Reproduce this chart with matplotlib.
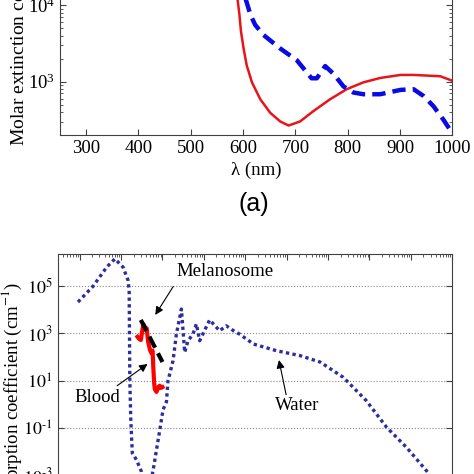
import numpy as np
import matplotlib.pyplot as plt
from matplotlib.ticker import NullLocator, LogLocator, FuncFormatter

plt.rcParams['font.family'] = 'Liberation Serif'
plt.rcParams['mathtext.fontset'] = 'stix'
plt.rcParams['font.size'] = 13.5

# (a) molar extinction, two dyes
wl_red = [586, 589, 593, 596, 601, 607, 617, 633, 652, 671, 687, 709, 734, 766, 798, 830, 862, 901, 926, 977, 1000]
ext_red = [5e4, 12700, 7570, 4540, 2720, 1630, 979, 586, 390, 301, 266, 301, 409, 586, 796, 979, 1117, 1225, 1225, 1177, 1028]

wl_blue = [600, 604, 614, 623, 639, 671, 703, 731, 741, 757, 773, 792, 811, 830, 862, 901, 926, 945, 964, 983, 1000]
ext_blue = [3e4, 12700, 7570, 5560, 4090, 2720, 1900, 1107, 1107, 1600, 1263, 865, 720, 684, 684, 780, 796, 649, 477, 317, 211]

# (b) absorption coefficients, wavelength in metres
wl_water = [9.1e-9, 2.13e-8, 4.48e-8, 7.1e-8, 1.12e-7, 1.48e-7, 1.57e-7, 1.63e-7, 1.72e-7,
            1.87e-7, 2.36e-7, 3.12e-7, 4.19e-7, 5.93e-7, 7.16e-7, 8.61e-7, 1.03e-6, 1.25e-6,
            1.36e-6, 1.50e-6, 1.80e-6, 2.17e-6, 2.87e-6, 3.44e-6, 4.14e-6, 5.46e-6, 6.59e-6,
            7.92e-6, 1.38e-5, 2.40e-5, 3.48e-5, 5.22e-5, 7.30e-5, 1.58e-4, 5.68e-4, 2.11e-3,
            6.41e-3, 2.33e-2, 8.38e-2, 0.258, 0.783, 2.38, 6.34]
mua_water = [2.1e4, 1.0e5, 6.2e5, 1.4e6, 6.2e5, 1.7e5, 6.3e4, 10, 0.22,
             8.9e-3, 4.6e-3, 1.45e-3, 9.3e-5, 1.6e-3, 0.012, 0.083, 0.59, 1.32,
             10, 19.5, 71, 930, 1.07e4, 158, 490, 930, 2510,
             490, 3720, 1290, 2090, 1290, 930, 355, 186, 115,
             62, 14, 1.45, 0.11, 0.0155, 1.6e-3, 1.5e-4]

wl_blood_nm = [250, 270, 300, 330, 345, 380, 415, 450, 500, 543, 576, 590, 600, 630, 652, 716, 800, 861, 920, 1000]
mua_blood = [720, 600, 525, 1500, 2500, 1800, 1640, 447, 200, 145, 186, 80, 38, 8, 4.5, 3.4, 5.5, 6.2, 5.0, 5.4]

wl_mel_nm = [300, 1000]
mua_mel = [3700, 62]

fig = plt.figure(figsize=(4.74, 4.74), dpi=100)
W = 474.0


def fmt_pot(v, pos):
    e = int(round(np.log10(v)))
    if e < 0:
        return r'$10^{\text{-}%d}$' % (-e)
    return r'$10^{%d}$' % e


# ---- top panel (partly outside the picture) ----
ax1 = fig.add_axes([60 / W, 1 - 135 / W, (452.3 - 60) / W, 206 / W])
ax1.plot(wl_red, ext_red, color='#e8141c', lw=1.8)
ax1.plot(wl_blue, ext_blue, color='#0a0ae6', lw=3.2, linestyle=(0, (3, 1.6)))
ax1.set_yscale('log')
ax1.set_xlim(250, 1000)
ax1.set_ylim(200, 1e5)
ax1.set_xticks(range(300, 1001, 100))
ax1.tick_params(which='both', direction='in', top=True, right=True, colors='#404040', labelcolor='black')
ax1.tick_params(which='major', length=4)
ax1.tick_params(which='minor', length=2)
for s in ax1.spines.values():
    s.set_color('#404040')

fig.text(256 / W, 1 - 170 / W, 'λ (nm)', ha='center', va='center')
fig.text(18 / W, 1 - 146 / W, 'Molar extinction coefficient (cm$^{-1}$/M)', rotation=90,
         ha='center', va='bottom', fontsize=14)
fig.text(254 / W, 1 - 204 / W, '(a)', ha='center', va='center', family='Liberation Sans', fontsize=18)

# ---- bottom panel (its lower part lies outside the picture) ----
ax2 = fig.add_axes([58 / W, 1 - 499.3 / W, (452.3 - 58) / W, 245.3 / W])
ax2.plot(wl_water, mua_water, color='#2d2d9f', lw=2.4, linestyle=(0, (1, 1)))
ax2.plot(np.array(wl_blood_nm) * 1e-9, mua_blood, color='#ff0000', lw=3)
ax2.plot(np.array(wl_mel_nm) * 1e-9, mua_mel, color='black', lw=3, linestyle=(0, (3, 1.5)))
ax2.set_xscale('log')
ax2.set_yscale('log')
ax2.set_xlim(3e-9, 10)
ax2.set_ylim(1e-4, 2.24e6)
ax2.set_yticks([1e-3, 1e-1, 1e1, 1e3, 1e5])
ax2.yaxis.set_major_formatter(FuncFormatter(fmt_pot))
ax2.yaxis.set_minor_locator(NullLocator())
ax2.xaxis.set_major_locator(LogLocator(base=10, numticks=20))
ax2.xaxis.set_minor_locator(LogLocator(base=10, subs=np.arange(2, 10), numticks=20))
ax2.yaxis.grid(True, linestyle=':', color='#888888', lw=0.8)
ax2.tick_params(which='both', direction='in', top=True, right=True, colors='#404040', labelcolor='black')
ax2.tick_params(axis='x', labelbottom=False)
ax2.tick_params(axis='y', pad=4, labelsize=13)
ax2.tick_params(which='major', length=4)
ax2.tick_params(which='minor', length=2)
for s in ax2.spines.values():
    s.set_color('#404040')

ax2.text(2.17e-6, 3.9e5, 'Melanosome', ha='left', va='center')
ax2.annotate('', xy=(6.17e-7, 4800), xytext=(1.98e-6, 1.2e5),
             arrowprops=dict(arrowstyle='-|>', color='black', lw=0.8, mutation_scale=12))
ax2.text(7.3e-9, 2.0, 'Blood', ha='left', va='center')
ax2.annotate('', xy=(4.94e-7, 60), xytext=(7.1e-8, 5.3),
             arrowprops=dict(arrowstyle='-|>', color='black', lw=0.8, mutation_scale=12))
ax2.text(5.3e-4, 0.89, 'Water', ha='left', va='center')
ax2.annotate('', xy=(6.3e-4, 98), xytext=(1.0e-3, 2.0),
             arrowprops=dict(arrowstyle='-|>', color='black', lw=0.8, mutation_scale=12))

fig.text(12 / W, 1 - 282 / W, 'Absorption coefficient (cm$^{-1}$)', rotation=90,
         ha='center', va='top', fontsize=13.5)

fig.savefig('out.png', dpi=100)
